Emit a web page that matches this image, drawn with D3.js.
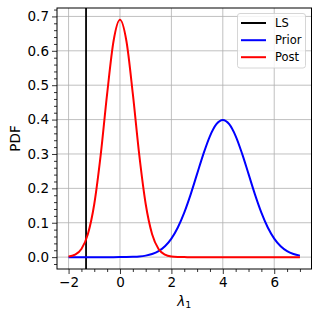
<!DOCTYPE html>
<html><head><meta charset="utf-8">
<script src="https://cdn.jsdelivr.net/npm/d3@7"></script>
<style>body{margin:0;background:#fff}svg{display:block}text{font-family:"DejaVu Sans",sans-serif}</style>
</head><body>
<script>
const xs = [-2,-1.75,-1.5,-1.25,-1,-0.75,-0.5,-0.25,0,0.25,0.5,0.75,1,1.25,1.5,1.75,2,2.25,2.5,2.75,3,3.25,3.5,3.75,4,4.25,4.5,4.75,5,5.25,5.5,5.75,6,6.25,6.5,6.75,7];
const prior = [0,0,0,0,0,0,0,0,0.0001,0.0003,0.0009,0.0020,0.0044,0.0091,0.0175,0.0317,0.0540,0.0863,0.1295,0.1826,0.2420,0.3011,0.3521,0.3867,0.3989,0.3867,0.3521,0.3011,0.2420,0.1826,0.1295,0.0863,0.0540,0.0317,0.0175,0.0091,0.0044];
const post = [0.0017,0.0070,0.0238,0.0666,0.1545,0.2973,0.4747,0.6284,0.6900,0.6284,0.4747,0.2973,0.1545,0.0666,0.0238,0.0070,0.0017,0.0004,0.0001,0,0,0,0,0,0,0,0,0,0,0,0,0,0,0,0,0,0];
const lsValue = -1.32;
const xTicks = [-2,0,2,4,6];
const yTicks = [0,0.1,0.2,0.3,0.4,0.5,0.6,0.7];
const legendLabels = ["LS","Prior","Post"];
const colors = ["#000000","#0000ff","#ff0000"];

const W=320,H=317, L=57, R=311.5, T=8, B=269;
const svg=d3.select("body").append("svg").attr("width",W).attr("height",H);
const x=d3.scaleLinear().domain([-2.45,7.45]).range([L,R]);
const y=d3.scaleLinear().domain([-0.0345,0.7245]).range([B,T]);

// grid
const g=svg.append("g");
g.selectAll(".gx").data(xTicks).join("line").attr("x1",d=>x(d)).attr("x2",d=>x(d)).attr("y1",T).attr("y2",B).attr("stroke","#b0b0b0").attr("stroke-width",0.8);
g.selectAll(".gy").data(yTicks).join("line").attr("y1",d=>y(d)).attr("y2",d=>y(d)).attr("x1",L).attr("x2",R).attr("stroke","#b0b0b0").attr("stroke-width",0.8);

// curves
svg.append("clipPath").attr("id","c").append("rect").attr("x",L).attr("y",T).attr("width",R-L).attr("height",B-T);
const pl=svg.append("g").attr("clip-path","url(#c)");
pl.append("line").attr("x1",x(lsValue)).attr("x2",x(lsValue)).attr("y1",T).attr("y2",B).attr("stroke",colors[0]).attr("stroke-width",1.8);
const line=d3.line().x((d,i)=>x(xs[i])).y(d=>y(d)).curve(d3.curveMonotoneX);
pl.append("path").attr("d",line(prior)).attr("fill","none").attr("stroke",colors[1]).attr("stroke-width",2);
pl.append("path").attr("d",line(post)).attr("fill","none").attr("stroke",colors[2]).attr("stroke-width",2);

// axes
const ax=svg.append("g").attr("transform",`translate(0,${B})`).call(d3.axisBottom(x).tickValues(xTicks).tickFormat(d=>d<0?"\u2212"+Math.abs(d):d).tickSize(5).tickPadding(3));
const axm=svg.append("g").attr("transform",`translate(0,${B})`).call(d3.axisBottom(x).tickValues(d3.range(-2,7.01,0.5).filter(v=>!xTicks.includes(v))).tickFormat("").tickSize(3));
const ay=svg.append("g").attr("transform",`translate(${L},0)`).call(d3.axisLeft(y).tickValues(yTicks).tickFormat(d3.format(".1f")).tickSize(5).tickPadding(3));
const aym=svg.append("g").attr("transform",`translate(${L},0)`).call(d3.axisLeft(y).tickValues(d3.range(-0.02,0.721,0.02).filter(v=>Math.abs(v*10-Math.round(v*10))>1e-6)).tickFormat("").tickSize(3));
[ax,axm,ay,aym].forEach(a=>{a.select(".domain").remove();a.selectAll("line").attr("stroke","#000").attr("stroke-width",0.8);a.selectAll("text").attr("font-size",13.5).attr("fill","#000").attr("font-family","DejaVu Sans");});
svg.append("rect").attr("x",L).attr("y",T).attr("width",R-L).attr("height",B-T).attr("fill","none").attr("stroke","#000").attr("stroke-width",1);

// labels
svg.append("text").attr("transform",`translate(19.5,${(T+B)/2}) rotate(-90)`).attr("text-anchor","middle").attr("font-size",13.5).text("PDF");
const xl=svg.append("text").attr("x",(L+R)/2).attr("y",305.5).attr("text-anchor","middle").attr("font-size",13.5);
xl.append("tspan").attr("font-style","italic").text("λ");
xl.append("tspan").attr("font-size",9.5).attr("dy",2.5).text("1");

// legend
const lg=svg.append("g");
lg.append("rect").attr("x",237.5).attr("y",13.5).attr("width",68).attr("height",54.5).attr("rx",2.5).attr("fill","#fff").attr("fill-opacity",0.8).attr("stroke","#cccccc").attr("stroke-width",0.8);
const rows=[23,40.2,57.2];
legendLabels.forEach((lab,i)=>{
  lg.append("line").attr("x1",241).attr("x2",266).attr("y1",rows[i]).attr("y2",rows[i]).attr("stroke",colors[i]).attr("stroke-width",2);
  lg.append("text").attr("x",275).attr("y",rows[i]+4.2).attr("font-size",11.5).text(lab);
});
</script>
</body></html>
